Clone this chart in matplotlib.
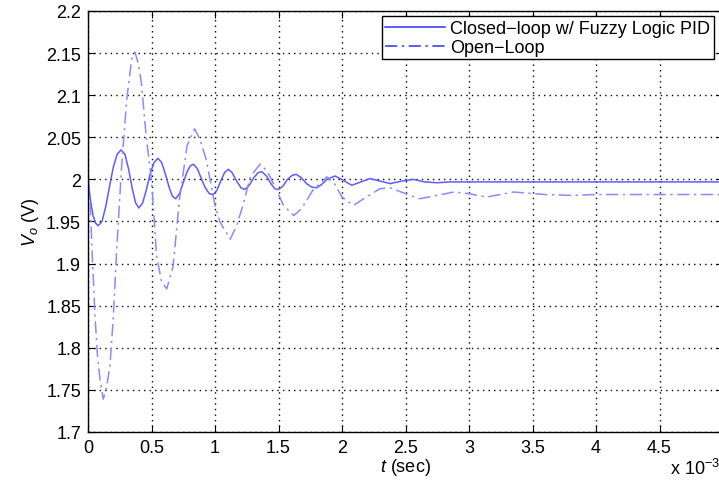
import numpy as np
import matplotlib.pyplot as plt

plt.rcParams['font.family'] = ['Liberation Sans', 'DejaVu Sans']
plt.rcParams['mathtext.fontset'] = 'custom'
plt.rcParams['mathtext.it'] = 'Liberation Sans:italic'
plt.rcParams['mathtext.rm'] = 'Liberation Sans'

# closed-loop response, time in ms
t_cl = [0.000, 0.020, 0.040, 0.060, 0.080, 0.110, 0.140, 0.170, 0.200, 0.230,
        0.260, 0.290, 0.320, 0.350, 0.375, 0.400, 0.430, 0.460, 0.490, 0.520,
        0.550, 0.580, 0.610, 0.640, 0.665, 0.690, 0.720, 0.750, 0.780, 0.805,
        0.830, 0.860, 0.890, 0.920, 0.955, 0.985, 1.015, 1.045, 1.075, 1.105,
        1.135, 1.170, 1.205, 1.235, 1.270, 1.305, 1.340, 1.370, 1.405, 1.440,
        1.470, 1.500, 1.535, 1.570, 1.610, 1.640, 1.680, 1.720, 1.760, 1.800,
        1.840, 1.880, 1.945, 2.010, 2.076, 2.150, 2.220, 2.300, 2.380, 2.470,
        2.560, 2.650, 2.750, 2.850, 3.000, 3.200, 3.400, 3.600, 3.800, 4.000,
        4.500, 5.000]
v_cl = [2.000, 1.975, 1.957, 1.948, 1.945, 1.950, 1.968, 1.992, 2.015, 2.030,
        2.035, 2.030, 2.012, 1.988, 1.972, 1.966, 1.972, 1.988, 2.007, 2.020,
        2.025, 2.020, 2.006, 1.990, 1.980, 1.977, 1.983, 1.996, 2.009, 2.016,
        2.018, 2.013, 2.002, 1.991, 1.983, 1.982, 1.987, 1.998, 2.008, 2.012,
        2.008, 1.998, 1.990, 1.988, 1.993, 2.002, 2.008, 2.009, 2.004, 1.995,
        1.989, 1.988, 1.992, 2.000, 2.005, 2.006, 2.002, 1.995, 1.991, 1.990,
        1.994, 2.000, 2.004, 1.999, 1.993, 1.997, 2.001, 1.998, 1.995, 1.998,
        2.000, 1.997, 1.996, 1.997, 1.997, 1.997, 1.997, 1.997, 1.997, 1.997,
        1.997, 1.997]

# open-loop response, time in ms
t_ol = [0.000, 0.016, 0.035, 0.055, 0.075, 0.094, 0.120, 0.145, 0.173, 0.200,
        0.226, 0.265, 0.305, 0.344, 0.370, 0.395, 0.420, 0.460, 0.500, 0.540,
        0.580, 0.620, 0.670, 0.720, 0.780, 0.840, 0.880, 0.930, 1.000, 1.040,
        1.120, 1.170, 1.220, 1.280, 1.355, 1.410, 1.470, 1.540, 1.620, 1.680,
        1.770, 1.880, 1.940, 2.000, 2.090, 2.180, 2.300, 2.380, 2.500, 2.610,
        2.750, 2.880, 3.000, 3.140, 3.350, 3.600, 3.800, 4.000, 4.500, 5.000]
v_ol = [2.000, 1.977, 1.905, 1.838, 1.790, 1.763, 1.739, 1.752, 1.779, 1.838,
        1.917, 2.016, 2.095, 2.143, 2.151, 2.138, 2.115, 2.048, 2.000, 1.909,
        1.878, 1.870, 1.897, 1.976, 2.040, 2.060, 2.048, 2.024, 1.969, 1.949,
        1.929, 1.945, 1.969, 2.004, 2.018, 2.010, 1.992, 1.969, 1.957, 1.965,
        1.987, 2.003, 1.995, 1.979, 1.969, 1.978, 1.989, 1.990, 1.983, 1.977,
        1.981, 1.985, 1.983, 1.979, 1.985, 1.982, 1.981, 1.982, 1.982, 1.982]

xticks = [0, 0.5, 1, 1.5, 2, 2.5, 3, 3.5, 4, 4.5, 5]
xlabels = ['0', '0.5', '1', '1.5', '2', '2.5', '3', '3.5', '4', '4.5', '5']
yticks = [1.7, 1.75, 1.8, 1.85, 1.9, 1.95, 2, 2.05, 2.1, 2.15, 2.2]
ylabels = ['1.7', '1.75', '1.8', '1.85', '1.9', '1.95', '2', '2.05', '2.1', '2.15', '2.2']

fig = plt.figure(figsize=(7.19, 4.81), dpi=100)
ax = fig.add_axes([0.1224, 0.0998, 0.8832, 0.8753])

ax.plot(t_cl, v_cl, color='#5c5cff', lw=1.1, label='Closed\u2212loop w/ Fuzzy Logic PID')
ax.plot(t_ol, v_ol, color='#8a8aff', lw=1.1, ls=(0, (8, 3, 1.5, 3)), label='Open\u2212Loop')

ax.set_xlim(0, 5)
ax.set_ylim(1.7, 2.2)
ax.set_xticks(xticks)
ax.set_xticklabels(xlabels)
ax.set_yticks(yticks)
ax.set_yticklabels(ylabels)
ax.tick_params(direction='in', top=True, right=True, length=5, labelsize=13,
               colors='black', pad=5)
ax.grid(True, color='black', ls=(0, (1, 3)), lw=1.0)
for s in ax.spines.values():
    s.set_linewidth(1.0)

ax.set_xlabel('$t$ (sec)', fontsize=13, labelpad=0)
ax.set_ylabel('$V_o$ (V)', fontsize=13, labelpad=4)
fig.text(0.932, 0.012, 'x 10$^{-3}$', fontsize=13)

leg = ax.legend(loc='upper right', bbox_to_anchor=(0.9855, 0.987), fontsize=13,
                fancybox=False, framealpha=1, edgecolor='black', handlelength=3.3,
                borderpad=0.2, labelspacing=0.1, handletextpad=0.3, borderaxespad=0)
leg.get_frame().set_linewidth(1.0)
for ln in leg.get_lines():
    ln.set_color('#3030ff')

fig.savefig('out.png', dpi=100)
